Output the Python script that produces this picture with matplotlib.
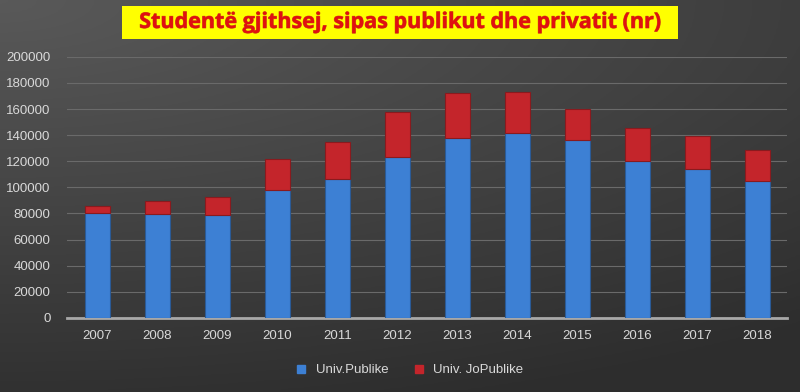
import numpy as np
import matplotlib
matplotlib.use("Agg")
import matplotlib.pyplot as plt
from matplotlib.patches import Rectangle
from matplotlib.lines import Line2D
import matplotlib.patheffects as pe

years = ["2007", "2008", "2009", "2010", "2011", "2012", "2013", "2014", "2015", "2016", "2017", "2018"]
publike = [80500, 79500, 78500, 98000, 106500, 123000, 138000, 141500, 136000, 120500, 114000, 105000]
jopublike = [5000, 10000, 14000, 24000, 28000, 35000, 34500, 31800, 24300, 25000, 25700, 23800]
yticks = [0, 20000, 40000, 60000, 80000, 100000, 120000, 140000, 160000, 180000, 200000]
title = "Studentë gjithsej, sipas publikut dhe privatit (nr)"
legend_labels = ["Univ.Publike", "Univ. JoPublike"]

fig = plt.figure(figsize=(8, 3.92), dpi=100)

# background gradient
bg = fig.add_axes([0, 0, 1, 1], zorder=0)
yy, xx = np.mgrid[0:1:200j, 0:1:400j]
d = np.sqrt((xx * 0.9) ** 2 + (yy * 1.3) ** 2)
val = 0.35 - 0.17 * np.clip(d / 1.4, 0, 1)
img = np.dstack([val, val, val])
bg.imshow(img, aspect="auto", extent=[0, 1, 0, 1], origin="upper")
bg.axis("off")

ax = fig.add_axes([0.084, 0.189, 0.9, 0.666], zorder=1)
ax.patch.set_alpha(0)
x = np.arange(len(years))
w = 0.42
ax.bar(x, publike, width=w, color="#3d80d4", edgecolor="#2a5a96", linewidth=0.8, zorder=3)
ax.bar(x, jopublike, width=w, bottom=publike, color="#c4252b", edgecolor="#8a1a1e", linewidth=0.8, zorder=3)

ax.set_xlim(-0.5, len(years) - 0.5)
ax.set_ylim(0, 200000)
ax.set_yticks(yticks)
ax.set_yticklabels([str(v) for v in yticks])
ax.set_xticks(x)
ax.set_xticklabels(years)
ax.yaxis.grid(True, color="#6a6a6a", linewidth=0.8, zorder=0)
ax.set_axisbelow(True)
for s in ["top", "right", "left"]:
    ax.spines[s].set_visible(False)
ax.spines["bottom"].set_color("#a8a8a8")
ax.spines["bottom"].set_linewidth(2)
ax.tick_params(axis="both", length=0, colors="#d9d9d9", labelsize=9.5)
ax.tick_params(axis="x", pad=9)
ax.tick_params(axis="y", pad=12)
for lab in ax.get_xticklabels() + ax.get_yticklabels():
    lab.set_fontfamily("Liberation Sans")

# title box and text
fig.patches.append(Rectangle((122 / 800, 1 - 39 / 392), 556 / 800, 33 / 392,
                             transform=fig.transFigure, facecolor="#ffff00", edgecolor="none", zorder=2))
fig.text(0.5, 1 - 22.5 / 392, title, ha="center", va="center", fontsize=15.5, fontweight="bold",
         color="#e01010", family="Open Sans", zorder=3,
         path_effects=[pe.withStroke(linewidth=0.6, foreground="#d06010")])

handles = [Line2D([0], [0], marker="s", linestyle="none", markersize=6, markerfacecolor="#3d80d4", markeredgecolor="#3d80d4"),
           Line2D([0], [0], marker="s", linestyle="none", markersize=6, markerfacecolor="#c4252b", markeredgecolor="#c4252b")]
leg = fig.legend(handles, legend_labels, loc="center", bbox_to_anchor=(0.507, 0.056), ncol=2, frameon=False,
                 handletextpad=0.1, columnspacing=1.3, prop={"family": "Liberation Sans", "size": 9.5})
for t in leg.get_texts():
    t.set_color("#d9d9d9")

fig.savefig("out.png", dpi=100)
